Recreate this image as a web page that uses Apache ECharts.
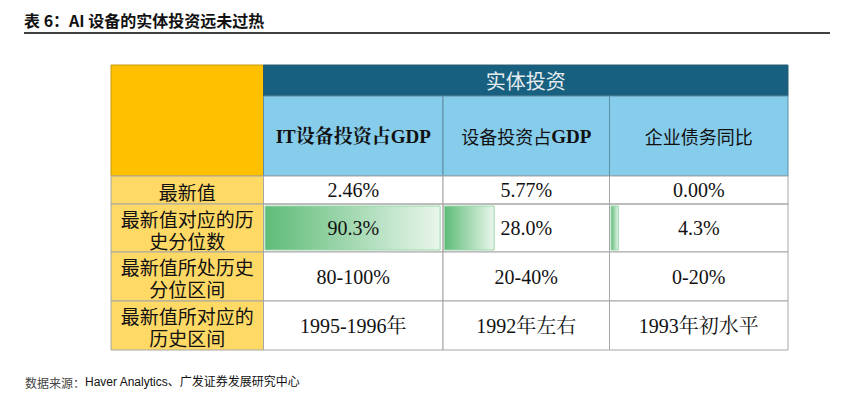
<!DOCTYPE html>
<html>
<head>
<meta charset="utf-8">
<script src="https://cdn.jsdelivr.net/npm/echarts@6/dist/echarts.min.js"></script>
<style>
  html, body { margin: 0; padding: 0; background: #fff; }
  #chart { width: 844px; height: 411px; }
</style>
</head>
<body>
<div id="chart"></div>
<script>
// ---- data ----
var chartTitle = '表 6：AI 设备的实体投资远未过热';
var sourceLabel = '数据来源：';
var sourceText = 'Haver Analytics、广发证券发展研究中心';
var groupHeader = '实体投资';
var columnNames = ['IT设备投资占GDP', '设备投资占GDP', '企业债务同比'];
var rowLabels = ['最新值', '最新值对应的历\n史分位数', '最新值所处历史\n分位区间', '最新值所对应的\n历史区间'];
var latestValues = ['2.46%', '5.77%', '0.00%'];
var percentiles = [90.3, 28.0, 4.3];
var percentileRanges = ['80-100%', '20-40%', '0-20%'];
var historyPeriods = ['1995-1996年', '1992年左右', '1993年初水平'];
var percentileMax = 91;

// ---- layout (page pixels) ----
var colEdges = [111, 263.5, 443, 609.5, 788];
var rowEdges = [65, 96, 176, 204, 252, 301, 350];

var SERIF = '"Liberation Serif", "Noto Serif CJK SC", "Noto Sans CJK SC", serif';
var CJK = '"Noto Sans CJK SC", "Liberation Serif", sans-serif';

(function () {
    "use strict";

    var chart = echarts.init(document.getElementById('chart'), null, { renderer: 'svg' });

    // build the table cells from the data arrays
    var cells = [];
    cells.push({ x0: colEdges[0], x1: colEdges[1], y0: rowEdges[0], y1: rowEdges[2], fill: '#FFC000', stroke: '#C89A10' });
    cells.push({ x0: colEdges[1], x1: colEdges[4], y0: rowEdges[0], y1: rowEdges[1], fill: '#17607F', stroke: '#2B5C73',
        text: groupHeader, color: '#E6ECEF', font: 'normal 20px ' + CJK });
    columnNames.forEach(function (name, i) {
        var c = { x0: colEdges[i + 1], x1: colEdges[i + 2], y0: rowEdges[1], y1: rowEdges[2], fill: '#86CCEB', stroke: '#5E8EA5',
            text: name, color: '#111', font: 'normal 18px ' + CJK };
        if (i === 0) {
            c.rich = { b: { fontWeight: 'bold', fontSize: 19, fontFamily: SERIF, fill: '#111' } };
            c.text = '{b|' + name + '}';
        } else if (name.indexOf('GDP') > -1) {
            c.rich = {
                n: { fontSize: 18, fontFamily: CJK, fill: '#111' },
                b: { fontWeight: 'bold', fontSize: 19, fontFamily: SERIF, fill: '#111' }
            };
            c.text = '{n|' + name.replace('GDP', '') + '}{b|GDP}';
        }
        cells.push(c);
    });
    var bodyRows = [latestValues, percentiles.map(function (v) { return v.toFixed(1) + '%'; }), percentileRanges, historyPeriods];
    rowLabels.forEach(function (label, r) {
        var y0 = rowEdges[r + 2], y1 = rowEdges[r + 3];
        cells.push({ x0: colEdges[0], x1: colEdges[1], y0: y0, y1: y1, fill: '#FFD966', stroke: '#A6A6A6',
            text: label, color: '#111', font: 'normal 19px ' + CJK, dy: 1 });
        bodyRows[r].forEach(function (val, i) {
            var c = { x0: colEdges[i + 1], x1: colEdges[i + 2], y0: y0, y1: y1, fill: '#FFFFFF', stroke: '#A6A6A6',
                text: val, color: '#111', font: 'normal 20px ' + SERIF };
            if (r === 1) {
                c.fill = 'rgba(0,0,0,0)';
            }
            cells.push(c);
        });
    });

    function cellItem(params, api, withText) {
        var c = cells[api.value(0)];
        var p0 = api.coord([c.x0, c.y0]);
        var p1 = api.coord([c.x1, c.y1]);
        if (!withText) {
            return {
                type: 'rect',
                shape: { x: p0[0], y: p0[1], width: p1[0] - p0[0], height: p1[1] - p0[1] },
                style: { fill: c.fill, stroke: c.stroke, lineWidth: 1 }
            };
        }
        if (!c.text) {
            return null;
        }
        var style = {
            text: c.text, x: (p0[0] + p1[0]) / 2, y: (p0[1] + p1[1]) / 2 + (c.dy || 0),
            align: 'center', verticalAlign: 'middle', fill: c.color, font: c.font, lineHeight: 22
        };
        if (c.rich) {
            style.rich = c.rich;
        }
        return { type: 'text', style: style };
    }

    var cellIndex = cells.map(function (c, i) { return [i]; });

    var grids = [{ left: colEdges[0], top: rowEdges[0], width: colEdges[4] - colEdges[0], height: rowEdges[6] - rowEdges[0] }];
    var xAxes = [{ type: 'value', gridIndex: 0, min: colEdges[0], max: colEdges[4], show: false }];
    var yAxes = [{ type: 'value', gridIndex: 0, min: rowEdges[0], max: rowEdges[6], inverse: true, show: false }];
    var series = [
        { type: 'custom', xAxisIndex: 0, yAxisIndex: 0, z: 1, silent: true, data: cellIndex,
            renderItem: function (params, api) { return cellItem(params, api, false); } },
        { type: 'custom', xAxisIndex: 0, yAxisIndex: 0, z: 5, silent: true, data: cellIndex,
            renderItem: function (params, api) { return cellItem(params, api, true); } }
    ];

    // data bars for the percentile row
    percentiles.forEach(function (v, i) {
        var g = i + 1;
        grids.push({ left: colEdges[i + 1] + 1, top: rowEdges[3] + 1.5, width: colEdges[i + 2] - colEdges[i + 1] - 2, height: rowEdges[4] - rowEdges[3] - 3 });
        xAxes.push({ type: 'value', gridIndex: g, min: 0, max: percentileMax, show: false });
        yAxes.push({ type: 'category', gridIndex: g, data: ['分位数'], show: false });
        series.push({
            type: 'bar', xAxisIndex: g, yAxisIndex: g, z: 3, silent: true, barWidth: '100%',
            data: [v],
            itemStyle: {
                color: new echarts.graphic.LinearGradient(0, 0, 1, 0, [
                    { offset: 0, color: '#5FBC78' },
                    { offset: 1, color: '#E9F6EC' }
                ]),
                borderColor: '#9AD6AB',
                borderWidth: 1
            }
        });
    });

    chart.setOption({
        animation: false,
        title: [
            { text: chartTitle, left: 24, top: 12, padding: 0,
                textStyle: { fontSize: 16, fontWeight: 'bold', fontFamily: CJK, color: '#111' } },
            { text: '{a|' + sourceLabel + '}{b|' + sourceText + '}', left: 25, top: 376, padding: 0,
                textStyle: { rich: {
                    a: { fontSize: 12, fontWeight: 'normal', fontFamily: CJK, color: '#444' },
                    b: { fontSize: 12, fontWeight: 'normal', fontFamily: '"Liberation Sans", ' + CJK, color: '#111' }
                } } }
        ],
        graphic: [{
            type: 'line', silent: true,
            shape: { x1: 24, y1: 33, x2: 830, y2: 33 },
            style: { stroke: '#000', lineWidth: 1.5 }
        }],
        grid: grids,
        xAxis: xAxes,
        yAxis: yAxes,
        series: series
    });

    window.addEventListener('resize', function () {
        chart.resize();
    });
})();
</script>
</body>
</html>
